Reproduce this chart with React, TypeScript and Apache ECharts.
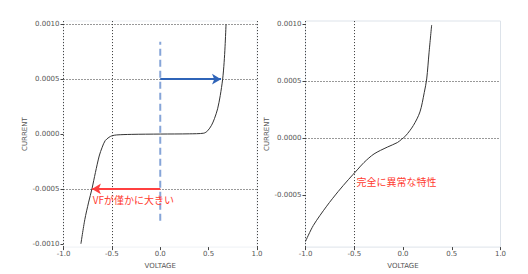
import React, { useEffect, useRef } from "react";
import * as echarts from "echarts";

// Left chart: IV curve (VOLTAGE, CURRENT)
const leftCurve: [number, number][] = [
  [-0.82, -0.001], [-0.78, -0.00078], [-0.74, -0.00062], [-0.706, -0.0005],
  [-0.67, -0.00035], [-0.631, -0.0002], [-0.6, -0.00012], [-0.569, -0.00006],
  [-0.53, -0.00003], [-0.5, -0.000016], [-0.45, -0.000008], [-0.3, -0.000003],
  [0.0, 0.0], [0.3, 0.000002], [0.45, 0.000008], [0.49, 0.00003],
  [0.53, 0.00008], [0.56, 0.00014], [0.593, 0.00023], [0.62, 0.00035],
  [0.645, 0.0005], [0.66, 0.00065], [0.67, 0.0008], [0.68, 0.001],
];
// Right chart: abnormal curve
const rightCurve: [number, number][] = [
  [-1.0, -0.00091], [-0.92, -0.00077], [-0.783, -0.0006], [-0.664, -0.00047],
  [-0.561, -0.000367], [-0.469, -0.00028], [-0.4, -0.000215], [-0.297, -0.00014],
  [-0.161, -0.00008], [-0.058, -0.00004], [-0.013, -0.00001], [0.028, 0.00002],
  [0.106, 0.00011], [0.174, 0.00023], [0.218, 0.0004], [0.243, 0.00052],
  [0.267, 0.00075], [0.294, 0.000995],
];

const leftYTicks = [-0.001, -0.0005, 0.0, 0.0005, 0.001];
const rightYTicks = [-0.0005, 0.0, 0.0005, 0.001];

const leftGridX = [-1.0, -0.5, 1.0];
const leftGridY = [0.001, 0.0005, -0.0005];
const rightGridX = [-1.0, -0.5];
const rightGridY = [0.0005, 0.0];

const dashedVLine: [number, number][] = [[0, -0.00079], [0, 0.00084]];
const blueArrow: [number, number][] = [[0, 0.0005], [0.628, 0.0005]];
const redArrow: [number, number][] = [[0, -0.0005], [-0.706, -0.0005]];

const leftNote = { text: "VFが僅かに大きい", x: -0.698, y: -0.000597 };
const rightNote = { text: "完全に異常な特性", x: -0.477, y: -0.000384 };

const xName = "VOLTAGE";
const yName = "CURRENT";

const labelStyle = { fontSize: 7, color: "#555", fontFamily: "DejaVu Sans" };

function gridMarks(xs: number[], ys: number[], yMin: number, yMax: number) {
  return {
    silent: true,
    symbol: ["none", "none"],
    label: { show: false },
    lineStyle: { color: "#333", type: [1, 2], width: 1 },
    data: [
      ...xs.map((v) => [{ coord: [v, yMin] }, { coord: [v, yMax] }]),
      ...ys.map((v) => [{ coord: [-1, v] }, { coord: [1, v] }]),
    ],
  };
}

function noteMark(note: { text: string; x: number; y: number }) {
  return {
    silent: true,
    symbol: "circle",
    symbolSize: 0,
    data: [{ coord: [note.x, note.y] }],
    label: {
      show: true,
      position: "right",
      distance: 0,
      formatter: note.text,
      color: "#ff3b30",
      fontSize: 10,
      fontFamily: "Noto Sans CJK JP",
    },
  };
}

export default function App() {
  const ref = useRef<HTMLDivElement>(null);
  useEffect(() => {
    document.body.style.margin = "0";
    if (!ref.current) return;
    const chart = echarts.init(ref.current, undefined, { renderer: "svg" });
    const xAxisBase = (gridIndex: number, nameGap: number) => ({
      type: "value",
      gridIndex,
      min: -1,
      max: 1,
      interval: 0.5,
      name: xName,
      nameLocation: "middle",
      nameGap,
      nameTextStyle: labelStyle,
      axisLine: { show: false, onZero: false },
      axisTick: { show: true, length: 3, lineStyle: { color: "#444" } },
      axisLabel: { ...labelStyle, margin: 3, formatter: (v: number) => v.toFixed(1) },
      splitLine: { show: false },
    });
    const yAxisBase = (
      gridIndex: number,
      min: number,
      max: number,
      ticks: number[],
      nameGap: number
    ) => ({
      type: "value",
      gridIndex,
      min,
      max,
      name: yName,
      nameLocation: "middle",
      nameGap,
      nameTextStyle: labelStyle,
      axisLine: { show: false, onZero: false },
      axisTick: { show: true, length: 3, customValues: ticks, lineStyle: { color: "#444" } },
      axisLabel: {
        ...labelStyle,
        margin: 4,
        customValues: ticks,
        formatter: (v: number) => v.toFixed(4),
      },
      splitLine: { show: false },
    });
    chart.setOption({
      animation: false,
      grid: [
        { left: 63.5, right: 271, top: 21, bottom: 25.4, show: true, borderColor: "#eef1f5", borderWidth: 1 },
        { left: 305.5, right: 27.5, top: 21, bottom: 24, show: true, borderColor: "#dde3ea", borderWidth: 1 },
      ],
      xAxis: [xAxisBase(0, 10), xAxisBase(1, 9)],
      yAxis: [
        yAxisBase(0, -0.00103, 0.00103, leftYTicks, 30),
        yAxisBase(1, -0.00096, 0.00103, rightYTicks, 34),
      ],
      series: [
        {
          type: "line",
          xAxisIndex: 0,
          yAxisIndex: 0,
          data: [],
          markLine: gridMarks(leftGridX, leftGridY, -0.00103, 0.00103),
        },
        {
          type: "line",
          xAxisIndex: 1,
          yAxisIndex: 1,
          data: [],
          markLine: gridMarks(rightGridX, rightGridY, -0.00096, 0.00103),
        },
        {
          type: "line",
          xAxisIndex: 0,
          yAxisIndex: 0,
          data: leftCurve,
          smooth: 0.3,
          showSymbol: false,
          lineStyle: { color: "#333", width: 1 },
          silent: true,
        },
        {
          type: "line",
          xAxisIndex: 1,
          yAxisIndex: 1,
          data: rightCurve,
          smooth: 0.3,
          showSymbol: false,
          lineStyle: { color: "#333", width: 1 },
          silent: true,
          markPoint: noteMark(rightNote),
        },
        {
          type: "line",
          xAxisIndex: 0,
          yAxisIndex: 0,
          data: dashedVLine,
          showSymbol: false,
          silent: true,
          lineStyle: { color: "#86a5d8", width: 2, type: [7, 4] },
        },
        {
          type: "line",
          xAxisIndex: 0,
          yAxisIndex: 0,
          data: [],
          silent: true,
          markLine: {
            silent: true,
            symbol: ["none", "arrow"],
            symbolSize: [8, 9],
            label: { show: false },
            data: [
              [
                { coord: blueArrow[0], lineStyle: { color: "#2f64b8", width: 2, type: "solid" }, itemStyle: { color: "#2f64b8" } },
                { coord: blueArrow[1] },
              ],
              [
                { coord: redArrow[0], lineStyle: { color: "#ff4040", width: 2, type: "solid" }, itemStyle: { color: "#ff4040" } },
                { coord: redArrow[1] },
              ],
            ],
          },
          markPoint: noteMark(leftNote),
        },
      ],
    });
    return () => chart.dispose();
  }, []);
  return <div ref={ref} style={{ width: 528, height: 274 }} />;
}
